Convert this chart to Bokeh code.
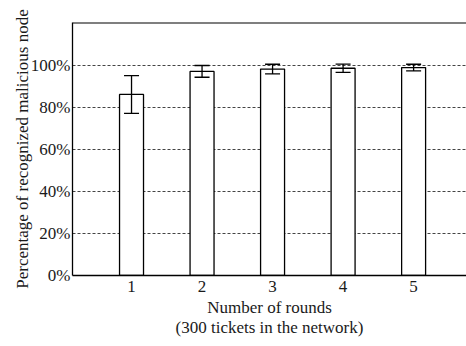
from bokeh.plotting import figure
from bokeh.models import ColumnDataSource, FixedTicker, Range1d, Whisker, TeeHead, Span
from bokeh.embed import file_html
from bokeh.resources import INLINE

rounds = [1, 2, 3, 4, 5]
mean_pct = [86.3, 97.3, 98.4, 98.8, 99.1]
err_pct = [9.0, 2.8, 2.3, 2.0, 1.6]
y_ticks = [0, 20, 40, 60, 80, 100]
y_tick_labels = ["0%", "20%", "40%", "60%", "80%", "100%"]
x_label = "Number of rounds\n(300 tickets in the network)"
y_label = "Percentage of recognized malicious node"

Y_MAX = 120.6

src = ColumnDataSource(dict(
    x=rounds,
    top=mean_pct,
    upper=[m + e for m, e in zip(mean_pct, err_pct)],
    lower=[m - e for m, e in zip(mean_pct, err_pct)],
))

FONT = "Liberation Serif"
TXT = "#1a1a1a"

p = figure(width=466, height=346, output_backend="svg", toolbar_location=None,
           x_range=Range1d(0.163, 5.75), y_range=Range1d(0, Y_MAX),
           min_border_left=72, min_border_right=0, min_border_top=22, min_border_bottom=71)
p.outline_line_color = None
p.background_fill_color = "white"
p.border_fill_color = "white"

p.vbar(x="x", top="top", bottom=0, width=0.34, source=src,
       fill_color="white", line_color="black", line_width=1.3)
w = Whisker(base="x", upper="upper", lower="lower", source=src,
            line_color="black", line_width=1.3, level="overlay",
            upper_head=TeeHead(size=15, line_color="black", line_width=1.3),
            lower_head=TeeHead(size=15, line_color="black", line_width=1.3))
p.add_layout(w)

p.add_layout(Span(location=Y_MAX, dimension="width", line_color="black", line_width=2))

p.xgrid.visible = False
p.ygrid.ticker = FixedTicker(ticks=y_ticks[1:])
p.ygrid.grid_line_color = "#444444"
p.ygrid.grid_line_dash = "3 2"
p.ygrid.grid_line_width = 1

xa = p.xaxis[0]
xa.ticker = FixedTicker(ticks=rounds)
xa.axis_label = x_label
ya = p.yaxis[0]
ya.ticker = FixedTicker(ticks=y_ticks)
ya.major_label_overrides = {t: l for t, l in zip(y_ticks, y_tick_labels)}
ya.axis_label = y_label

for ax in (xa, ya):
    ax.axis_line_color = "black"
    ax.axis_line_width = 1.3
    ax.major_tick_line_color = None
    ax.minor_tick_line_color = None
    ax.major_tick_out = 0
    ax.major_tick_in = 0
    ax.minor_tick_out = 0
    ax.minor_tick_in = 0
    ax.major_label_text_font = FONT
    ax.major_label_text_font_size = "17px"
    ax.major_label_text_color = TXT
    ax.axis_label_text_font = FONT
    ax.axis_label_text_font_size = "17px"
    ax.axis_label_text_font_style = "normal"
    ax.axis_label_text_color = TXT

xa.major_label_standoff = 5
xa.axis_label_standoff = 3
xa.axis_label_text_line_height = 1.1
ya.major_label_standoff = 2
ya.axis_label_standoff = -4

open("out.html", "w").write(file_html(p, INLINE))
